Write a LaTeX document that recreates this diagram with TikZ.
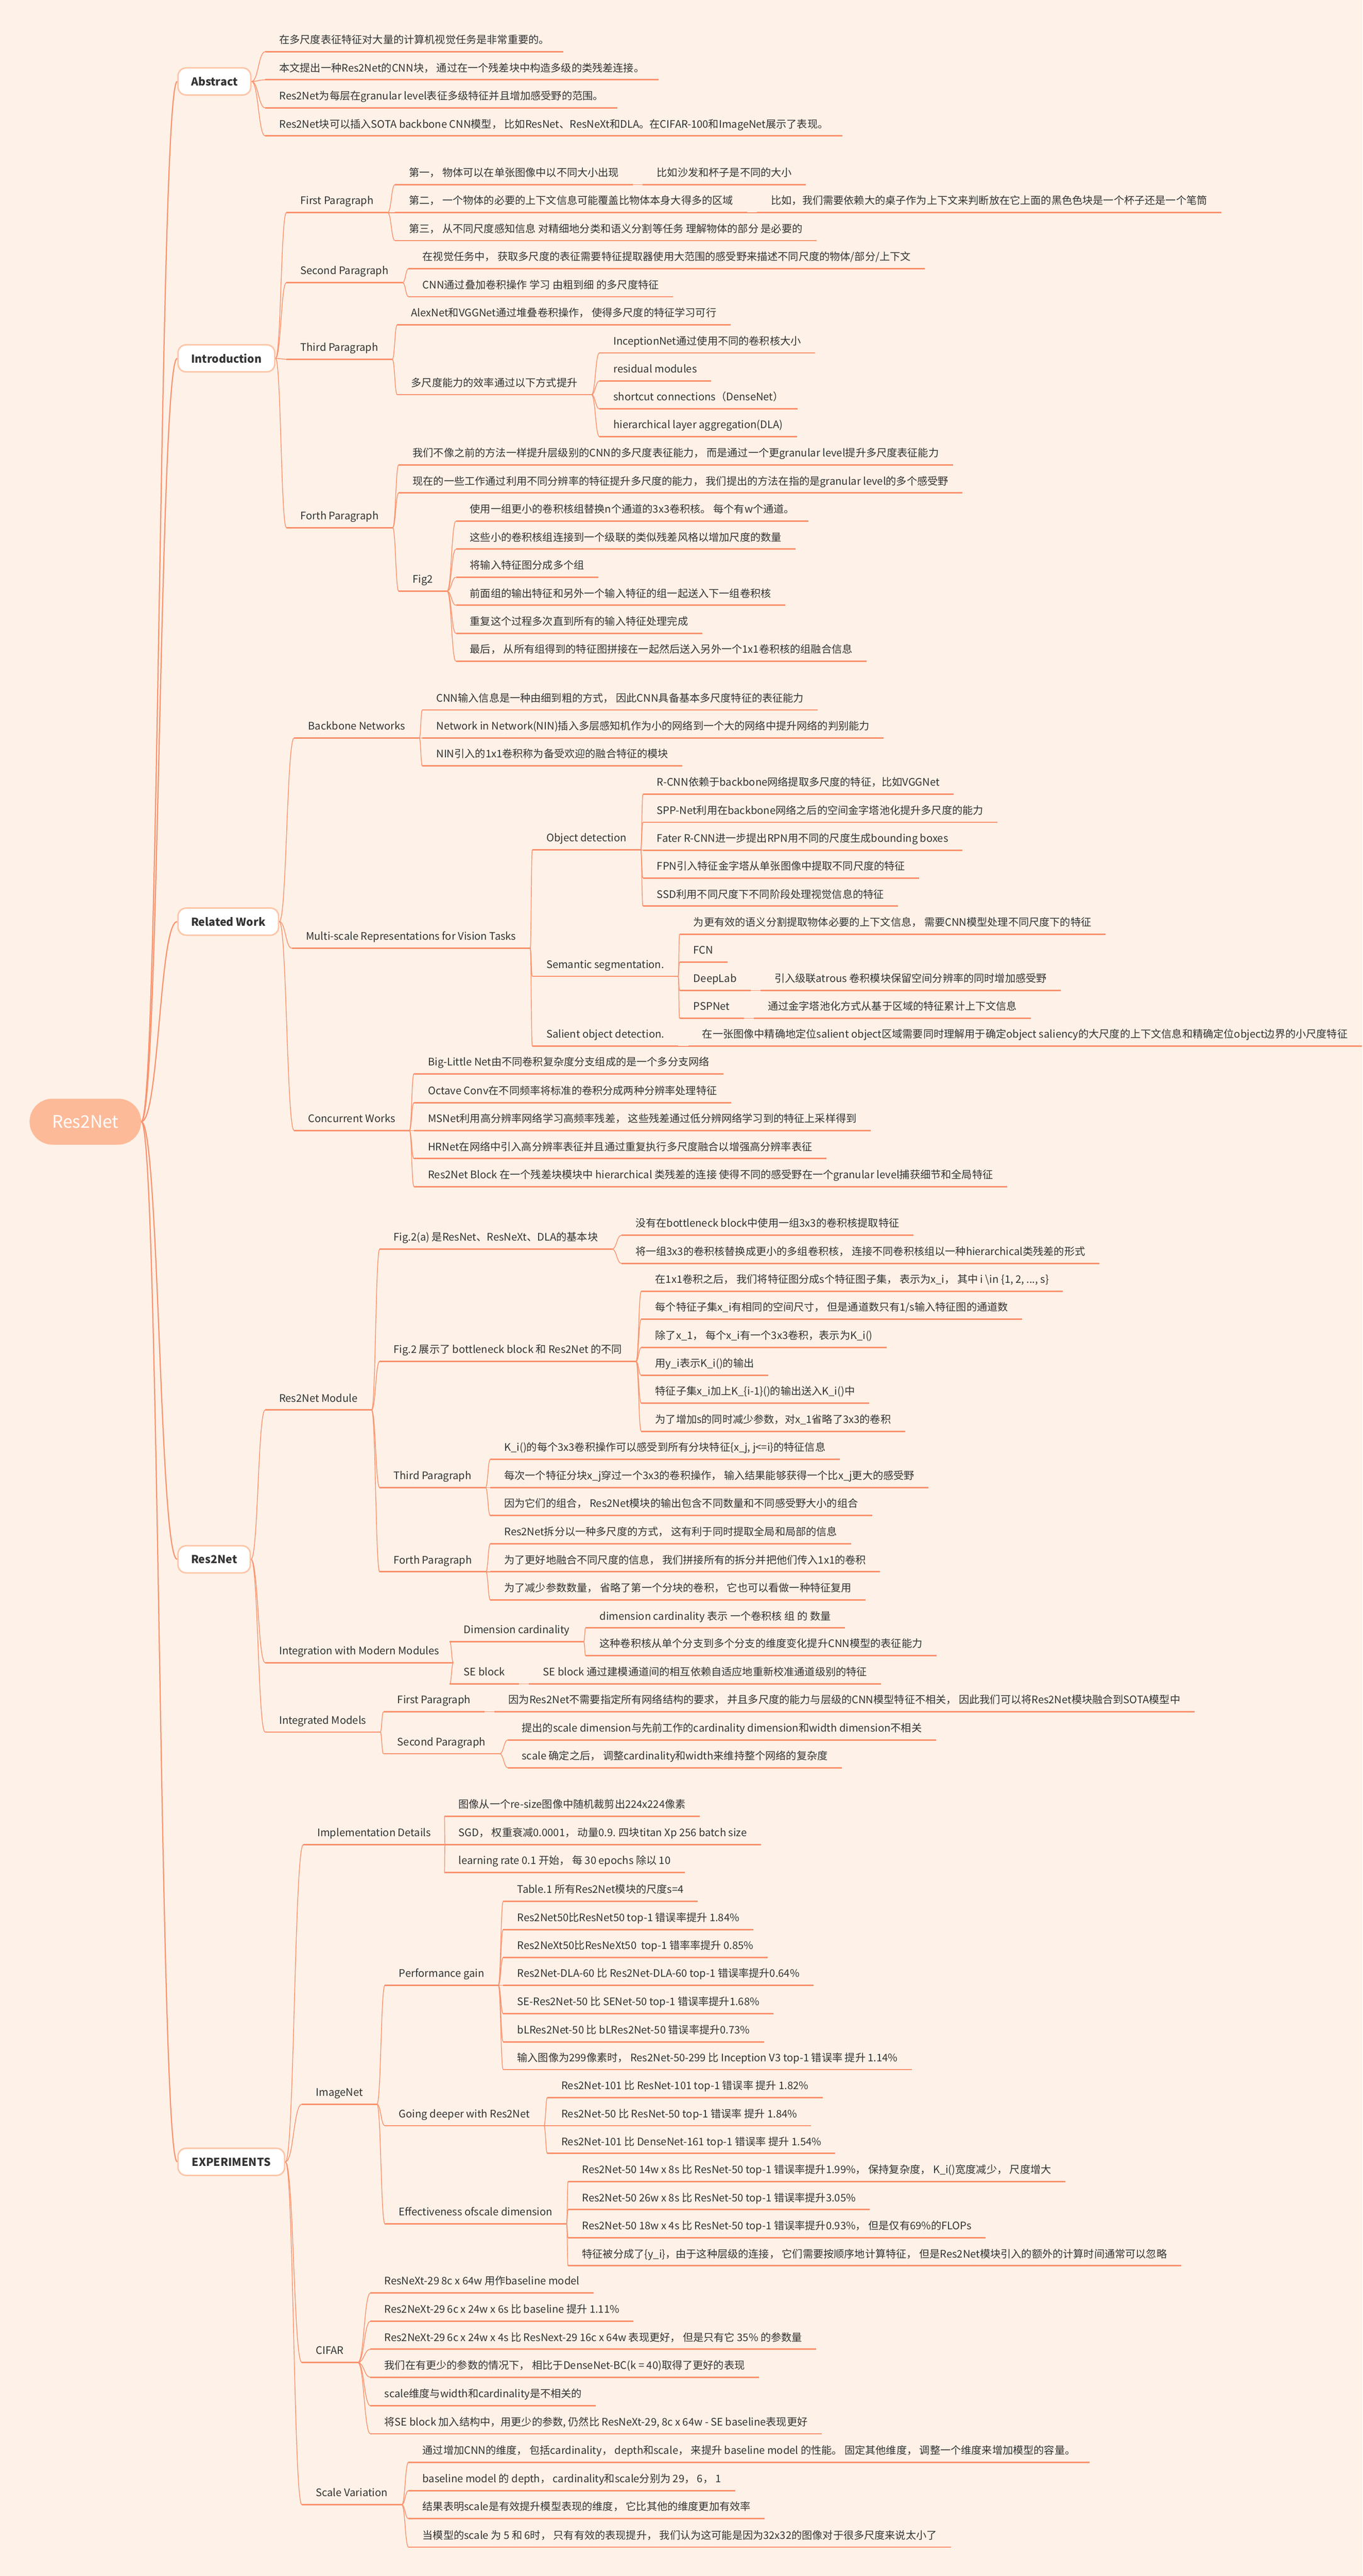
\documentclass[tikz,border=0pt]{standalone}
\usepackage{fontspec}
\setmainfont{Noto Sans CJK SC}
\usetikzlibrary{positioning,calc}

\definecolor{bgcol}{HTML}{FEF1E7}
\definecolor{branchcol}{HTML}{F9936E}
\definecolor{ulcol}{HTML}{F9916D}
\definecolor{boxline}{HTML}{FDC5A6}
\definecolor{rootfill}{HTML}{FDBA98}
\definecolor{txtcol}{HTML}{333333}

\tikzset{
  every node/.style={font=\fontsize{18}{22}\selectfont, text=txtcol},
  uline/.style={draw=ulcol, line width=2.6pt},
  link/.style={draw=branchcol, line width=1.3pt},
  rootlink/.style={draw=branchcol, line width=2pt},
  leaf/.style={anchor=south west, inner xsep=0.85cm, inner ysep=0.39cm,
    text height=0.6cm, text depth=0.1cm,
    append after command={(\tikzlastnode.south west) edge[uline] (\tikzlastnode.south east)}},
  topic/.style={anchor=west, draw=boxline, line width=2.5pt, fill=white,
    rounded corners=0.5cm, minimum height=1.65cm, inner xsep=0.8cm,
    font=\bfseries\fontsize{19}{23}\selectfont},
  root/.style={fill=rootfill, text=white, rounded corners=1.4cm,
    minimum width=6.8cm, minimum height=2.8cm, font=\fontsize{30}{36}\selectfont}
}

% curved branch from a parent anchor to a child anchor
\newcommand{\branchto}[3][link]{%
  \draw[#1] let \p1=(#2), \p2=(#3), \n1={0.5*(\x2-\x1)} in
    (\p1) .. controls (\x1+\n1,\y1) and (\x2-\n1,\y2) .. (\p2);}

\begin{document}
\begin{tikzpicture}[x=0.1cm, y=-0.1cm]
    \fill[bgcol] (0,0) rectangle (830,1568.6);

    % central topic and main branches
    \node[root] (root) at (52,683) {Res2Net};
    \node[topic, minimum width=4.4cm] (abs) at (108,49.6) {Abstract};
    \node[topic, minimum width=5.5cm] (intro) at (108,218.2) {Introduction};
    \node[topic, minimum width=5.9cm] (rel) at (108,561.2) {Related Work};
    \node[topic, minimum width=4.3cm] (res) at (108,949.5) {Res2Net};
    \node[topic, minimum width=6.5cm] (exp) at (108,1316.4) {EXPERIMENTS};

    % Abstract
    \node[leaf] (abs1) at (161.6,31.5) {在多尺度表征特征对大量的计算机视觉任务是非常重要的。};
    \node[leaf] (abs2) at (161.6,48.6) {本文提出一种Res2Net的CNN块， 通过在一个残差块中构造多级的类残差连接。};
    \node[leaf] (abs3) at (161.6,65.7) {Res2Net为每层在granular level表征多级特征并且增加感受野的范围。};
    \node[leaf] (abs4) at (161.6,82.8) {Res2Net块可以插入SOTA backbone CNN模型， 比如ResNet、ResNeXt和DLA。在CIFAR-100和ImageNet展示了表现。};

    % Introduction
    \node[leaf] (fpara) at (174.5,129.5) {First Paragraph};
    \node[leaf] (first1) at (240.6,112.5) {第一， 物体可以在单张图像中以不同大小出现};
    \node[leaf, right=0.6cm of first1] (first1n) {比如沙发和杯子是不同的大小};
    \node[leaf] (first2) at (240.6,129.5) {第二， 一个物体的必要的上下文信息可能覆盖比物体本身大得多的区域};
    \node[leaf, right=0.6cm of first2] (first2n) {比如，我们需要依赖大的桌子作为上下文来判断放在它上面的黑色色块是一个杯子还是一个笔筒};
    \node[leaf] (first3) at (240.6,146.5) {第三， 从不同尺度感知信息 对精细地分类和语义分割等任务 理解物体的部分 是必要的};

    \node[leaf] (spara) at (174.5,172.1) {Second Paragraph};
    \node[leaf] (second1) at (248.9,163.6) {在视觉任务中， 获取多尺度的表征需要特征提取器使用大范围的感受野来描述不同尺度的物体/部分/上下文};
    \node[leaf] (second2) at (248.9,180.7) {CNN通过叠加卷积操作 学习 由粗到细 的多尺度特征};

    \node[leaf] (tpara) at (174.5,218.8) {Third Paragraph};
    \node[leaf] (third1) at (242,197.8) {AlexNet和VGGNet通过堆叠卷积操作， 使得多尺度的特征学习可行};
    \node[leaf] (third2) at (242,240.3) {多尺度能力的效率通过以下方式提升};
    \node[leaf] (eff1) at (365.2,214.9) {InceptionNet通过使用不同的卷积核大小};
    \node[leaf] (eff2) at (365.2,232.0) {residual modules};
    \node[leaf] (eff3) at (365.2,249.0) {shortcut connections（DenseNet）};
    \node[leaf] (eff4) at (365.2,265.9) {hierarchical layer aggregation(DLA)};

    \node[leaf] (fopara) at (174.5,321.3) {Forth Paragraph};
    \node[leaf] (forth1) at (242.9,283.1) {我们不像之前的方法一样提升层级别的CNN的多尺度表征能力， 而是通过一个更granular level提升多尺度表征能力};
    \node[leaf] (forth2) at (242.9,300.2) {现在的一些工作通过利用不同分辨率的特征提升多尺度的能力， 我们提出的方法在指的是granular level的多个感受野};
    \node[leaf] (figtwo) at (242.9,360.0) {Fig2};
    \node[leaf] (figtwo1) at (277.8,317.3) {使用一组更小的卷积核组替换n个通道的3x3卷积核。 每个有w个通道。};
    \node[leaf] (figtwo2) at (277.8,334.4) {这些小的卷积核组连接到一个级联的类似残差风格以增加尺度的数量};
    \node[leaf] (figtwo3) at (277.8,351.5) {将输入特征图分成多个组};
    \node[leaf] (figtwo4) at (277.8,368.6) {前面组的输出特征和另外一个输入特征的组一起送入下一组卷积核};
    \node[leaf] (figtwo5) at (277.8,385.7) {重复这个过程多次直到所有的输入特征处理完成};
    \node[leaf] (figtwo6) at (277.8,402.7) {最后， 从所有组得到的特征图拼接在一起然后送入另外一个1x1卷积核的组融合信息};

    % Related Work
    \node[leaf] (backbone) at (179.2,449.4) {Backbone Networks};
    \node[leaf] (bb1) at (257.3,432.3) {CNN输入信息是一种由细到粗的方式， 因此CNN具备基本多尺度特征的表征能力};
    \node[leaf] (bb2) at (257.3,449.4) {Network in Network(NIN)插入多层感知机作为小的网络到一个大的网络中提升网络的判别能力};
    \node[leaf] (bb3) at (257.3,466.4) {NIN引入的1x1卷积称为备受欢迎的融合特征的模块};

    \node[leaf] (multi) at (177.8,577.4) {Multi-scale Representations for Vision Tasks};
    \node[leaf] (objdet) at (324.3,517.5) {Object detection};
    \node[leaf] (od1) at (391.7,483.6) {R-CNN依赖于backbone网络提取多尺度的特征，比如VGGNet};
    \node[leaf] (od2) at (391.7,500.7) {SPP-Net利用在backbone网络之后的空间金字塔池化提升多尺度的能力};
    \node[leaf] (od3) at (391.7,517.7) {Fater R-CNN进一步提出RPN用不同的尺度生成bounding boxes};
    \node[leaf] (od4) at (391.7,534.7) {FPN引入特征金字塔从单张图像中提取不同尺度的特征};
    \node[leaf] (od5) at (391.7,551.8) {SSD利用不同尺度下不同阶段处理视觉信息的特征};
    \node[leaf] (semseg) at (324.3,594.5) {Semantic segmentation.};
    \node[leaf] (ss1) at (414,568.9) {为更有效的语义分割提取物体必要的上下文信息， 需要CNN模型处理不同尺度下的特征};
    \node[leaf] (ss2) at (414,585.9) {FCN};
    \node[leaf] (ss3) at (414,603.1) {DeepLab};
    \node[leaf, right=0.6cm of ss3] (ss3n) {引入级联atrous 卷积模块保留空间分辨率的同时增加感受野};
    \node[leaf] (ss4) at (414,620.1) {PSPNet};
    \node[leaf, right=0.6cm of ss4] (ss4n) {通过金字塔池化方式从基于区域的特征累计上下文信息};
    \node[leaf] (salient) at (324.3,637.1) {Salient object detection.};
    \node[leaf, right=0.6cm of salient] (salientn) {在一张图像中精确地定位salient object区域需要同时理解用于确定object saliency的大尺度的上下文信息和精确定位object边界的小尺度特征};

    \node[leaf] (concur) at (179.2,688.4) {Concurrent Works};
    \node[leaf] (cw1) at (252.2,653.8) {Big-Little Net由不同卷积复杂度分支组成的是一个多分支网络};
    \node[leaf] (cw2) at (252.2,671.4) {Octave Conv在不同频率将标准的卷积分成两种分辨率处理特征};
    \node[leaf] (cw3) at (252.2,688.4) {MSNet利用高分辨率网络学习高频率残差， 这些残差通过低分辨网络学习到的特征上采样得到};
    \node[leaf] (cw4) at (252.2,705.5) {HRNet在网络中引入高分辨率表征并且通过重复执行多尺度融合以增强高分辨率表征};
    \node[leaf] (cw5) at (252.2,722.6) {Res2Net Block 在一个残差块模块中 hierarchical 类残差的连接 使得不同的感受野在一个granular level捕获细节和全局特征};

    % Res2Net
    \node[leaf] (module) at (161.5,858.6) {Res2Net Module};
    \node[leaf] (figa) at (231.3,760.6) {Fig.2(a) 是ResNet、ResNeXt、DLA的基本块};
    \node[leaf] (figa1) at (378.6,752.2) {没有在bottleneck block中使用一组3x3的卷积核提取特征};
    \node[leaf] (figa2) at (378.6,769.3) {将一组3x3的卷积核替换成更小的多组卷积核， 连接不同卷积核组以一种hierarchical类残差的形式};
    \node[leaf] (figb) at (231.3,829.0) {Fig.2 展示了 bottleneck block 和 Res2Net 的不同};
    \node[leaf] (figb1) at (390.7,786.3) {在1x1卷积之后， 我们将特征图分成s个特征图子集， 表示为x\_i， 其中 i \textbackslash in \{1, 2, ..., s\}};
    \node[leaf] (figb2) at (390.7,803.3) {每个特征子集x\_i有相同的空间尺寸， 但是通道数只有1/s输入特征图的通道数};
    \node[leaf] (figb3) at (390.7,820.5) {除了x\_1， 每个x\_i有一个3x3卷积，表示为K\_i()};
    \node[leaf] (figb4) at (390.7,837.5) {用y\_i表示K\_i()的输出};
    \node[leaf] (figb5) at (390.7,854.5) {特征子集x\_i加上K\_\{i-1\}()的输出送入K\_i()中};
    \node[leaf] (figb6) at (390.7,871.6) {为了增加s的同时减少参数，对x\_1省略了3x3的卷积};
    \node[leaf] (mthird) at (231.3,905.8) {Third Paragraph};
    \node[leaf] (mt1) at (298.7,888.7) {K\_i()的每个3x3卷积操作可以感受到所有分块特征\{x\_j, j<=i\}的特征信息};
    \node[leaf] (mt2) at (298.7,905.8) {每次一个特征分块x\_j穿过一个3x3的卷积操作， 输入结果能够获得一个比x\_j更大的感受野};
    \node[leaf] (mt3) at (298.7,922.9) {因为它们的组合， Res2Net模块的输出包含不同数量和不同感受野大小的组合};
    \node[leaf] (mforth) at (231.3,957.1) {Forth Paragraph};
    \node[leaf] (mf1) at (298.7,940.1) {Res2Net拆分以一种多尺度的方式， 这有利于同时提取全局和局部的信息};
    \node[leaf] (mf2) at (298.7,957.1) {为了更好地融合不同尺度的信息， 我们拼接所有的拆分并把他们传入1x1的卷积};
    \node[leaf] (mf3) at (298.7,974.2) {为了减少参数数量， 省略了第一个分块的卷积， 它也可以看做一种特征复用};

    \node[leaf] (integ) at (161.5,1012.4) {Integration with Modern Modules};
    \node[leaf] (card) at (274,999.7) {Dimension cardinality};
    \node[leaf] (card1) at (356.8,991.3) {dimension cardinality 表示 一个卷积核 组 的 数量};
    \node[leaf] (card2) at (356.8,1008.2) {这种卷积核从单个分支到多个分支的维度变化提升CNN模型的表征能力};
    \node[leaf] (seblock) at (274,1025.3) {SE block};
    \node[leaf, right=0.6cm of seblock] (seblockn) {SE block 通过建模通道间的相互依赖自适应地重新校准通道级别的特征};

    \node[leaf] (models) at (161.5,1054.7) {Integrated Models};
    \node[leaf] (mfirst) at (233.6,1042.4) {First Paragraph};
    \node[leaf, right=0.6cm of mfirst] (mfirstn) {因为Res2Net不需要指定所有网络结构的要求， 并且多尺度的能力与层级的CNN模型特征不相关， 因此我们可以将Res2Net模块融合到SOTA模型中};
    \node[leaf] (msecond) at (233.6,1067.9) {Second Paragraph};
    \node[leaf] (ms1) at (309.4,1059.5) {提出的scale dimension与先前工作的cardinality dimension和width dimension不相关};
    \node[leaf] (ms2) at (309.4,1076.4) {scale 确定之后， 调整cardinality和width来维持整个网络的复杂度};

    % EXPERIMENTS
    \node[leaf] (impl) at (184.8,1123.2) {Implementation Details};
    \node[leaf] (im1) at (270.8,1106.1) {图像从一个re-size图像中随机裁剪出224x224像素};
    \node[leaf] (im2) at (270.8,1123.2) {SGD， 权重衰减0.0001， 动量0.9. 四块titan Xp 256 batch size};
    \node[leaf] (im3) at (270.8,1140.3) {learning rate 0.1 开始， 每 30 epochs 除以 10};

    \node[leaf] (imagenet) at (183.9,1281.3) {ImageNet};
    \node[leaf] (perf) at (234.5,1208.9) {Performance gain};
    \node[leaf] (pg1) at (306.6,1157.8) {Table.1 所有Res2Net模块的尺度s=4};
    \node[leaf] (pg2) at (306.6,1174.9) {Res2Net50比ResNet50 top-1 错误率提升 1.84\%};
    \node[leaf] (pg3) at (306.6,1192.0) {Res2NeXt50比ResNeXt50 \ top-1 错率率提升 0.85\%};
    \node[leaf] (pg4) at (306.6,1208.9) {Res2Net-DLA-60 比 Res2Net-DLA-60 top-1 错误率提升0.64\%};
    \node[leaf] (pg5) at (306.6,1226.2) {SE-Res2Net-50 比 SENet-50 top-1 错误率提升1.68\%};
    \node[leaf] (pg6) at (306.6,1243.3) {bLRes2Net-50 比 bLRes2Net-50 错误率提升0.73\%};
    \node[leaf] (pg7) at (306.6,1260.2) {输入图像为299像素时， Res2Net-50-299 比 Inception V3 top-1 错误率 提升 1.14\%};
    \node[leaf] (deeper) at (234.5,1294.4) {Going deeper with Res2Net};
    \node[leaf] (gd1) at (333.5,1277.3) {Res2Net-101 比 ResNet-101 top-1 错误率 提升 1.82\%};
    \node[leaf] (gd2) at (333.5,1294.4) {Res2Net-50 比 ResNet-50 top-1 错误率 提升 1.84\%};
    \node[leaf] (gd3) at (333.5,1311.3) {Res2Net-101 比 DenseNet-161 top-1 错误率 提升 1.54\%};
    \node[leaf] (scaledim) at (234.5,1354.1) {Effectiveness ofscale dimension};
    \node[leaf] (sd1) at (346.1,1328.4) {Res2Net-50 14w x 8s 比 ResNet-50 top-1 错误率提升1.99\%， 保持复杂度， K\_i()宽度减少， 尺度增大};
    \node[leaf] (sd2) at (346.1,1345.5) {Res2Net-50 26w x 8s 比 ResNet-50 top-1 错误率提升3.05\%};
    \node[leaf] (sd3) at (346.1,1362.6) {Res2Net-50 18w x 4s 比 ResNet-50 top-1 错误率提升0.93\%， 但是仅有69\%的FLOPs};
    \node[leaf] (sd4) at (346.1,1379.7) {特征被分成了\{y\_i\}，由于这种层级的连接， 它们需要按顺序地计算特征， 但是Res2Net模块引入的额外的计算时间通常可以忽略};

    \node[leaf] (cifar) at (183.9,1438.6) {CIFAR};
    \node[leaf] (cf1) at (225.7,1396.3) {ResNeXt-29 8c x 64w 用作baseline model};
    \node[leaf] (cf2) at (225.7,1413.5) {Res2NeXt-29 6c x 24w x 6s 比 baseline 提升 1.11\%};
    \node[leaf] (cf3) at (225.7,1430.5) {Res2NeXt-29 6c x 24w x 4s 比 ResNext-29 16c x 64w 表现更好， 但是只有它 35\% 的参数量};
    \node[leaf] (cf4) at (225.7,1447.6) {我们在有更少的参数的情况下， 相比于DenseNet-BC(k = 40)取得了更好的表现};
    \node[leaf] (cf5) at (225.7,1464.9) {scale维度与width和cardinality是不相关的};
    \node[leaf] (cf6) at (225.7,1482.0) {将SE block 加入结构中，用更少的参数, 仍然比 ResNeXt-29, 8c x 64w - SE baseline表现更好};

    \node[leaf] (scalevar) at (183.9,1525.2) {Scale Variation};
    \node[leaf] (sv1) at (248.9,1499.3) {通过增加CNN的维度， 包括cardinality， depth和scale， 来提升 baseline model 的性能。 固定其他维度， 调整一个维度来增加模型的容量。};
    \node[leaf] (sv2) at (248.9,1516.6) {baseline model 的 depth， cardinality和scale分别为 29， 6， 1};
    \node[leaf] (sv3) at (248.9,1533.7) {结果表明scale是有效提升模型表现的维度， 它比其他的维度更加有效率};
    \node[leaf] (sv4) at (248.9,1551.0) {当模型的scale 为 5 和 6时， 只有有效的表现提升， 我们认为这可能是因为32x32的图像对于很多尺度来说太小了};

    % branches from the centre
    \foreach \dst in {abs,intro,rel,res,exp}
        \branchto[rootlink]{root.east}{\dst.west};

    % branches from the main topics
    \foreach \dst in {abs1,abs2,abs3,abs4} \branchto{abs.east}{\dst.south west};
    \foreach \dst in {fpara,spara,tpara,fopara} \branchto{intro.east}{\dst.south west};
    \foreach \dst in {backbone,multi,concur} \branchto{rel.east}{\dst.south west};
    \foreach \dst in {module,integ,models} \branchto{res.east}{\dst.south west};
    \foreach \dst in {impl,imagenet,cifar,scalevar} \branchto{exp.east}{\dst.south west};

    % branches between underlined topics
    \foreach \src/\dst in {fpara/first1, fpara/first2, fpara/first3, first1/first1n, first2/first2n,
        spara/second1, spara/second2, tpara/third1, tpara/third2,
        third2/eff1, third2/eff2, third2/eff3, third2/eff4,
        fopara/forth1, fopara/forth2, fopara/figtwo,
        figtwo/figtwo1, figtwo/figtwo2, figtwo/figtwo3, figtwo/figtwo4, figtwo/figtwo5, figtwo/figtwo6,
        backbone/bb1, backbone/bb2, backbone/bb3,
        multi/objdet, multi/semseg, multi/salient, salient/salientn,
        objdet/od1, objdet/od2, objdet/od3, objdet/od4, objdet/od5,
        semseg/ss1, semseg/ss2, semseg/ss3, semseg/ss4, ss3/ss3n, ss4/ss4n,
        concur/cw1, concur/cw2, concur/cw3, concur/cw4, concur/cw5,
        module/figa, module/figb, module/mthird, module/mforth,
        figa/figa1, figa/figa2,
        figb/figb1, figb/figb2, figb/figb3, figb/figb4, figb/figb5, figb/figb6,
        mthird/mt1, mthird/mt2, mthird/mt3, mforth/mf1, mforth/mf2, mforth/mf3,
        integ/card, integ/seblock, card/card1, card/card2, seblock/seblockn,
        models/mfirst, models/msecond, mfirst/mfirstn, msecond/ms1, msecond/ms2,
        impl/im1, impl/im2, impl/im3,
        imagenet/perf, imagenet/deeper, imagenet/scaledim,
        perf/pg1, perf/pg2, perf/pg3, perf/pg4, perf/pg5, perf/pg6, perf/pg7,
        deeper/gd1, deeper/gd2, deeper/gd3,
        scaledim/sd1, scaledim/sd2, scaledim/sd3, scaledim/sd4,
        cifar/cf1, cifar/cf2, cifar/cf3, cifar/cf4, cifar/cf5, cifar/cf6,
        scalevar/sv1, scalevar/sv2, scalevar/sv3, scalevar/sv4}
        \branchto{\src.south east}{\dst.south west};
\end{tikzpicture}
\end{document}
